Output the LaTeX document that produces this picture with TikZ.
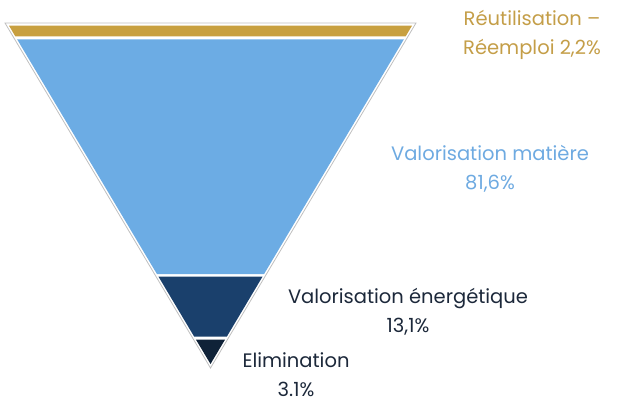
\documentclass[tikz,border=0pt]{standalone}
\usepackage{fontspec}
\setmainfont{Poppins}
\definecolor{goldc}{RGB}{200,160,64}
\definecolor{lblue}{RGB}{108,172,228}
\definecolor{dblue}{RGB}{26,64,108}
\definecolor{ddblue}{RGB}{15,34,56}
\definecolor{goldt}{RGB}{196,158,72}
\definecolor{bluet}{RGB}{110,170,225}
\definecolor{darkt}{RGB}{28,40,58}
\begin{document}
\begin{tikzpicture}[x=1pt,y=-1pt,
  lbl/.style={align=center, inner sep=0pt, font=\fontsize{19.5}{29}\selectfont}]
\useasboundingbox (0,0) rectangle (617,403);
\draw[black!25, line width=0.8pt] (5,23) -- (416,23) -- (210.5,368) -- cycle;
\fill[goldc] (9,25.7) -- (412,25.7) -- (405.7,36.3) -- (15.3,36.3) -- cycle;
\fill[lblue] (17.1,39.3) -- (403.9,39.3) -- (264.1,274) -- (156.9,274) -- cycle;
\fill[dblue] (158.4,276.5) -- (262.6,276.5) -- (226.9,336.5) -- (194.1,336.5) -- cycle;
\fill[ddblue] (195.9,339.5) -- (225.1,339.5) -- (210.5,364) -- cycle;
\node[lbl, text=goldt] (reuse) at (532,35) {Réutilisation –\\Réemploi 2,2\%};
\node[lbl, text=bluet] (mat) at (490,169) {Valorisation matière\\81,6\%};
\node[lbl, text=darkt] (ener) at (408,312) {Valorisation énergétique\\13,1\%};
\node[lbl, text=darkt] (elim) at (296,375) {Elimination\\3.1\%};
\end{tikzpicture}
\end{document}
